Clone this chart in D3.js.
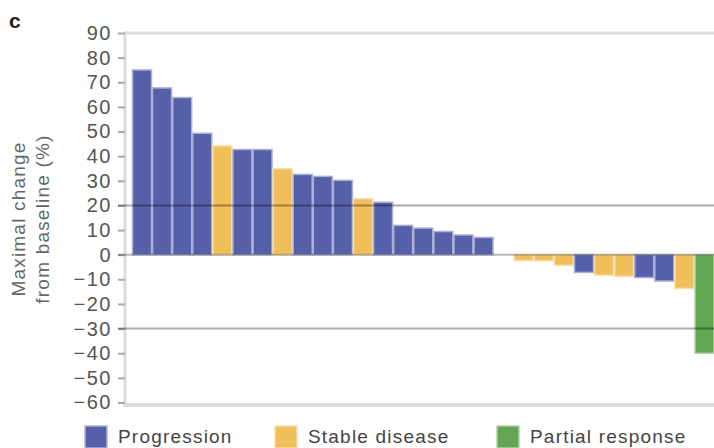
<!DOCTYPE html>
<html>
<head>
<meta charset="utf-8">
<script src="https://cdn.jsdelivr.net/npm/d3@7"></script>
<style>
  body { margin: 0; background: #fff; }
  svg { display: block; font-family: "Liberation Sans", Arial, sans-serif; }
</style>
</head>
<body>
<svg id="chart" width="714" height="448"></svg>
<script>
// patient order (one bar each), response class and maximal change (%)
const patients = d3.range(1, 30);
const responses = [
  "P", "P", "P", "P", "S", "P", "P", "S", "P", "P",
  "P", "S", "P", "P", "P", "P", "P", "P", "S", "S",
  "S", "S", "P", "S", "S", "P", "P", "S", "R"
];
const changes = [
  75, 67.7, 63.8, 49.3, 44.2, 42.7, 42.7, 34.9, 32.6, 31.8,
  30.2, 22.7, 21.3, 11.9, 10.8, 9.4, 8, 7, 0, -2.4,
  -2.5, -4.3, -7.2, -8.3, -8.8, -9.3, -10.7, -13.7, -40
];
const yTicks = [90, 80, 70, 60, 50, 40, 30, 20, 10, 0, -10, -20, -30, -40, -50, -60];
const refLines = [20, 0, -30];
const legendKeys = ["P", "S", "R"];
const legendLabels = ["Progression", "Stable disease", "Partial response"];

const colors = { P: "#5560a8", S: "#f0be5a", R: "#62a552" };
const halo = (c) => d3.interpolateRgb(c, "#fff")(0.5);

const svg = d3.select("#chart");

var x = d3.scaleBand()
  .domain(patients)
  .range([132.5, 714])
  .paddingInner(0.055)
  .paddingOuter(0);

var y = d3.scaleLinear()
  .domain([-60, 90])
  .range([402.5, 33]);

const data = patients.map((p, i) => ({ id: p, resp: responses[i], value: changes[i] }));

// frame (top + bottom)
svg.append("line")
  .attr("x1", 126).attr("x2", 714)
  .attr("y1", y(90)).attr("y2", y(90))
  .attr("stroke", "#dcdcdc").attr("stroke-width", 3);
svg.append("line")
  .attr("x1", 126).attr("x2", 714)
  .attr("y1", y(-60) + 2.5).attr("y2", y(-60) + 2.5)
  .attr("stroke", "#dcdcdc").attr("stroke-width", 4);

// bars
svg.append("g")
  .selectAll("rect")
  .data(data)
  .join("rect")
  .attr("x", (d) => x(d.id))
  .attr("width", x.bandwidth())
  .attr("y", (d) => Math.min(y(d.value), y(0)))
  .attr("height", (d) => Math.abs(y(d.value) - y(0)))
  .attr("fill", (d) => colors[d.resp])
  .attr("stroke", (d) => halo(colors[d.resp]))
  .attr("stroke-width", 1.5);

// y axis
const yAxis = svg.append("g")
  .attr("transform", "translate(125,0)")
  .call(d3.axisLeft(y).tickValues(yTicks).tickSize(7).tickPadding(6));
yAxis.select(".domain")
  .attr("stroke", "#dcdcdc").attr("stroke-width", 3)
  .attr("d", "M0," + (y(90) - 1.5) + "V" + (y(-60) + 4.5));
yAxis.selectAll(".tick line").attr("stroke", "#aaa").attr("stroke-width", 2);
yAxis.selectAll(".tick text")
  .attr("fill", "#555")
  .style("font-size", "20px")
  .style("letter-spacing", "1.5px");

// reference lines drawn over the bars
svg.append("g")
  .selectAll("line")
  .data(refLines)
  .join("line")
  .attr("x1", 118).attr("x2", 714)
  .attr("y1", (d) => y(d)).attr("y2", (d) => y(d))
  .attr("stroke", "#000")
  .attr("stroke-opacity", (d) => (d === 0 ? 0.27 : 0.33))
  .attr("stroke-width", 2);

// y label
const yl = svg.append("text")
  .attr("transform", "translate(25,219) rotate(-90)")
  .attr("text-anchor", "middle")
  .attr("fill", "#666")
  .style("font-size", "19px")
  .style("letter-spacing", "1.2px");
yl.append("tspan").attr("x", 0).attr("y", 0).text("Maximal change");
yl.append("tspan").attr("x", 0).attr("y", 24).text("from baseline (%)");

// panel letter
svg.append("text")
  .attr("x", 9).attr("y", 28)
  .style("font-size", "21px")
  .style("font-weight", "bold")
  .attr("fill", "#222")
  .text("c");

// legend
const legendX = [85, 275, 497];
const lg = svg.append("g")
  .selectAll("g")
  .data(legendKeys)
  .join("g")
  .attr("transform", (d, i) => "translate(" + legendX[i] + ",426)");
lg.append("rect")
  .attr("width", 22).attr("height", 22)
  .attr("fill", (d) => colors[d])
  .attr("stroke", (d) => halo(colors[d]))
  .attr("stroke-width", 1.5);
lg.append("text")
  .attr("x", 33).attr("y", 17)
  .attr("fill", "#444")
  .style("font-size", "19px")
  .style("letter-spacing", "1.2px")
  .text((d, i) => legendLabels[i]);
</script>
</body>
</html>
